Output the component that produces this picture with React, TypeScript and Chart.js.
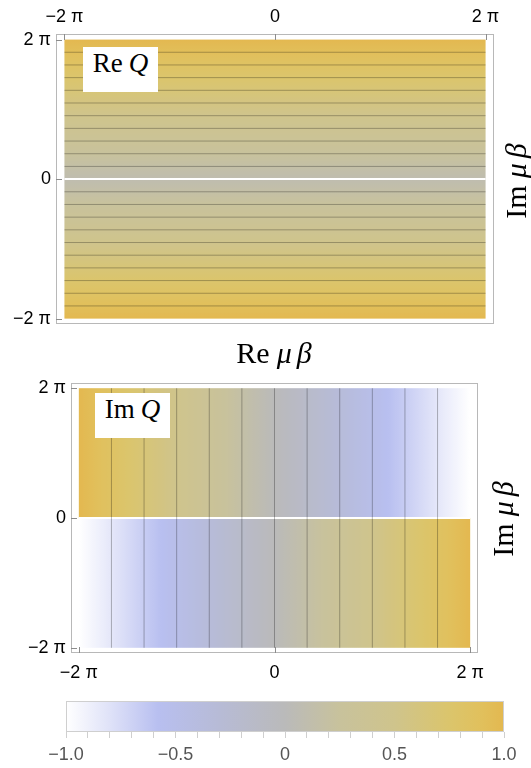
import React, { useEffect, useRef } from "react";
import { Chart, registerables } from "chart.js";

Chart.register(...registerables);

const PI = Math.PI;

// ---------- axes ----------
const axisMin = -2 * PI;
const axisMax = 2 * PI;
const plotPad = 0.08 * PI; // 2% of the 4π range on every side
const axisTickValues = [-2 * PI, 0, 2 * PI];
const axisTickLabels = ["−2 π", "0", "2 π"];

// ---------- Re Q : depends on Im μβ only ----------
const reQImSamples = [-2 * PI, 0, 2 * PI];
const reQValues = [1, 1 / 12, 1];
const reQContourLevels = [2 / 12, 3 / 12, 4 / 12, 5 / 12, 6 / 12, 7 / 12, 8 / 12, 9 / 12, 10 / 12, 11 / 12];

// ---------- Im Q : depends on Re μβ, sign flips across the cut ----------
const imQReSamples = [-2 * PI, 2 * PI];
const imQUpperValues = [1, -1];
const imQLowerValues = [-1, 1];
const imQContourLevels = [-5 / 6, -4 / 6, -3 / 6, -2 / 6, -1 / 6, 0, 1 / 6, 2 / 6, 3 / 6, 4 / 6, 5 / 6];

// ---------- colour bar ----------
const cbMin = -1;
const cbMax = 1;
const cbStopValues = [-1, -0.8, -0.58, -0.3, 0, 0.25, 0.5, 0.75, 0.9, 1];
const cbStopColors = ["#ffffff", "#dfe2f8", "#b8bff0", "#b7bbd6", "#bababa", "#c8c29c", "#cfc48c", "#dbc56c", "#e1c05c", "#e3b850"];
const cbLabelValues = [-1, -0.5, 0, 0.5, 1];
const cbLabels = ["−1.0", "−0.5", "0", "0.5", "1.0"];

const SANS = "'Liberation Sans', Arial, Helvetica, sans-serif";
const SERIF = "'Liberation Serif', 'Times New Roman', serif";

function hexToRgb(h: string) {
  const n = parseInt(h.slice(1), 16);
  return [(n >> 16) & 255, (n >> 8) & 255, n & 255];
}
function colorFor(v: number) {
  const t = Math.max(cbMin, Math.min(cbMax, v));
  for (let i = 0; i < cbStopValues.length - 1; i++) {
    if (t <= cbStopValues[i + 1] || i === cbStopValues.length - 2) {
      const f = (t - cbStopValues[i]) / (cbStopValues[i + 1] - cbStopValues[i]);
      const a = hexToRgb(cbStopColors[i]);
      const b = hexToRgb(cbStopColors[i + 1]);
      const c = a.map((x, k) => Math.round(x + f * (b[k] - x)));
      return `rgb(${c[0]},${c[1]},${c[2]})`;
    }
  }
  return cbStopColors[cbStopColors.length - 1];
}
function interp(samples: number[], values: number[], p: number) {
  for (let i = 0; i < samples.length - 1; i++) {
    if (p <= samples[i + 1] || i === samples.length - 2) {
      const f = (p - samples[i]) / (samples[i + 1] - samples[i]);
      return values[i] + f * (values[i + 1] - values[i]);
    }
  }
  return values[values.length - 1];
}
function levelCrossings(samples: number[], values: number[], level: number) {
  const out: number[] = [];
  for (let i = 0; i < samples.length - 1; i++) {
    const a = values[i];
    const b = values[i + 1];
    if (a !== b && (level - a) * (level - b) <= 0) {
      out.push(samples[i] + ((level - a) / (b - a)) * (samples[i + 1] - samples[i]));
    }
  }
  return out;
}

type Field = { x0: number; x1: number; y0: number; y1: number; axis: "x" | "y"; samples: number[]; values: number[] };

function heatmapPlugin(fields: Field[]) {
  return {
    id: "heatmap",
    beforeDatasetsDraw(chart: any) {
      const { ctx } = chart;
      const xs = chart.scales.x;
      const ys = chart.scales.y;
      ctx.save();
      for (const f of fields) {
        const px0 = xs.getPixelForValue(f.x0);
        const px1 = xs.getPixelForValue(f.x1);
        const py0 = ys.getPixelForValue(f.y0);
        const py1 = ys.getPixelForValue(f.y1);
        const a0 = f.samples[0];
        const a1 = f.samples[f.samples.length - 1];
        const g =
          f.axis === "x"
            ? ctx.createLinearGradient(xs.getPixelForValue(a0), 0, xs.getPixelForValue(a1), 0)
            : ctx.createLinearGradient(0, ys.getPixelForValue(a0), 0, ys.getPixelForValue(a1));
        const N = 240;
        for (let k = 0; k <= N; k++) {
          const t = k / N;
          g.addColorStop(t, colorFor(interp(f.samples, f.values, a0 + t * (a1 - a0))));
        }
        ctx.fillStyle = g;
        ctx.fillRect(Math.min(px0, px1), Math.min(py0, py1), Math.abs(px1 - px0), Math.abs(py1 - py0));
      }
      ctx.restore();
    },
  };
}

function framePlugin(sides: string[], color: string, tickLen: number) {
  return {
    id: "frame",
    afterDraw(chart: any) {
      const { ctx, chartArea } = chart;
      const xs = chart.scales.x;
      const ys = chart.scales.y;
      const L = Math.round(chartArea.left);
      const R = Math.round(chartArea.right);
      const T = Math.round(chartArea.top);
      const B = Math.round(chartArea.bottom);
      ctx.save();
      ctx.strokeStyle = color;
      ctx.lineWidth = 1;
      ctx.strokeRect(L + 0.5, T + 0.5, R - L - 1, B - T - 1);
      ctx.strokeStyle = "#8c8c8c";
      ctx.beginPath();
      for (const s of sides) {
        if (s === "left" && ys) {
          for (const v of axisTickValues) {
            const p = Math.round(ys.getPixelForValue(v)) + 0.5;
            ctx.moveTo(L, p);
            ctx.lineTo(L + tickLen, p);
          }
        }
        if ((s === "top" || s === "bottom") && xs) {
          for (const v of axisTickValues) {
            const p = Math.round(xs.getPixelForValue(v)) + 0.5;
            if (s === "top") {
              ctx.moveTo(p, T);
              ctx.lineTo(p, T + tickLen);
            } else {
              ctx.moveTo(p, B);
              ctx.lineTo(p, B - tickLen);
            }
          }
        }
      }
      ctx.stroke();
      ctx.restore();
    },
  };
}

function colorbarPlugin() {
  return {
    id: "colorbar",
    beforeDatasetsDraw(chart: any) {
      const { ctx, chartArea } = chart;
      const xs = chart.scales.x;
      const g = ctx.createLinearGradient(xs.getPixelForValue(cbMin), 0, xs.getPixelForValue(cbMax), 0);
      cbStopValues.forEach((v, i) => g.addColorStop((v - cbMin) / (cbMax - cbMin), cbStopColors[i]));
      ctx.save();
      ctx.fillStyle = g;
      ctx.fillRect(chartArea.left, chartArea.top, chartArea.right - chartArea.left, chartArea.bottom - chartArea.top);
      ctx.strokeStyle = "#cfcfcf";
      ctx.lineWidth = 1;
      ctx.strokeRect(Math.round(chartArea.left) + 0.5, Math.round(chartArea.top) + 0.5, Math.round(chartArea.right - chartArea.left) - 1, Math.round(chartArea.bottom - chartArea.top) - 1);
      ctx.restore();
    },
  };
}

function lineDs(points: { x: number; y: number }[], color: string, width: number) {
  return {
    data: points,
    showLine: true,
    pointRadius: 0,
    borderColor: color,
    borderWidth: width,
    fill: false,
  };
}

function axisScale(position: string, size: number, padding: number) {
  const horizontal = position === "top" || position === "bottom";
  return {
    type: "linear",
    position,
    min: axisMin - plotPad,
    max: axisMax + plotPad,
    afterBuildTicks: (s: any) => {
      s.ticks = axisTickValues.map((v) => ({ value: v }));
    },
    afterFit: (s: any) => {
      if (horizontal) s.height = size;
      else s.width = size;
    },
    grid: { display: false, drawTicks: false },
    border: { display: false },
    ticks: {
      autoSkip: false,
      maxRotation: 0,
      padding,
      color: "#000",
      font: { family: SANS, size: 18 },
      callback: (_v: any, i: number) => axisTickLabels[i],
    },
  };
}

const baseOpts = {
  animation: false,
  responsive: false,
  maintainAspectRatio: false,
  events: [],
  plugins: { legend: { display: false }, tooltip: { enabled: false }, title: { display: false } },
};

export default function App() {
  const c1 = useRef<HTMLCanvasElement>(null);
  const c2 = useRef<HTMLCanvasElement>(null);
  const c3 = useRef<HTMLCanvasElement>(null);

  useEffect(() => {
    const contour = "rgba(0,0,0,0.28)";
    // ----- Re Q -----
    const reDatasets: any[] = [];
    reQContourLevels.forEach((lv) =>
      levelCrossings(reQImSamples, reQValues, lv).forEach((yv) =>
        reDatasets.push(lineDs([{ x: axisMin, y: yv }, { x: axisMax, y: yv }], contour, 1))
      )
    );
    reDatasets.push(lineDs([{ x: axisMin, y: 0 }, { x: axisMax, y: 0 }], "#ffffff", 2));

    const chart1 = new Chart(c1.current as HTMLCanvasElement, {
      type: "scatter",
      data: { datasets: reDatasets },
      options: {
        ...baseOpts,
        layout: { padding: { left: 0, top: 0, right: 37, bottom: 14 } },
        scales: { x: axisScale("top", 34, 6), y: axisScale("left", 56, 5) },
      } as any,
      plugins: [
        heatmapPlugin([
          { x0: axisMin, x1: axisMax, y0: axisMin, y1: axisMax, axis: "y", samples: reQImSamples, values: reQValues },
        ]),
        framePlugin(["top", "left"], "#b8b8b8", 6),
      ] as any,
    });

    // ----- Im Q -----
    const imDatasets: any[] = [];
    imQContourLevels.forEach((lv) => {
      levelCrossings(imQReSamples, imQUpperValues, lv).forEach((xv) =>
        imDatasets.push(lineDs([{ x: xv, y: 0 }, { x: xv, y: axisMax }], contour, 1))
      );
      levelCrossings(imQReSamples, imQLowerValues, lv).forEach((xv) =>
        imDatasets.push(lineDs([{ x: xv, y: axisMin }, { x: xv, y: 0 }], contour, 1))
      );
    });
    imDatasets.push(lineDs([{ x: axisMin, y: 0 }, { x: axisMax, y: 0 }], "#ffffff", 2));

    const chart2 = new Chart(c2.current as HTMLCanvasElement, {
      type: "scatter",
      data: { datasets: imDatasets },
      options: {
        ...baseOpts,
        layout: { padding: { left: 0, top: 18, right: 53, bottom: 0 } },
        scales: { x: axisScale("bottom", 32, 9), y: axisScale("left", 71, 5) },
      } as any,
      plugins: [
        heatmapPlugin([
          { x0: axisMin, x1: axisMax, y0: 0, y1: axisMax, axis: "x", samples: imQReSamples, values: imQUpperValues },
          { x0: axisMin, x1: axisMax, y0: axisMin, y1: 0, axis: "x", samples: imQReSamples, values: imQLowerValues },
        ]),
        framePlugin(["bottom", "left"], "#b8b8b8", 6),
      ] as any,
    });

    // ----- colour bar -----
    const chart3 = new Chart(c3.current as HTMLCanvasElement, {
      type: "scatter",
      data: { datasets: [] },
      options: {
        ...baseOpts,
        layout: { padding: { left: 66, top: 16, right: 27, bottom: 0 } },
        scales: {
          x: {
            type: "linear",
            position: "bottom",
            min: cbMin,
            max: cbMax,
            afterFit: (s: any) => {
              s.height = 36;
            },
            grid: { display: true, drawOnChartArea: false, drawTicks: true, tickLength: 6, color: "#cfcfcf", lineWidth: 1 },
            border: { display: false },
            ticks: {
              stepSize: 0.1,
              autoSkip: false,
              maxRotation: 0,
              padding: 6,
              color: "#555555",
              font: { family: SANS, size: 18 },
              callback: (v: any) => {
                const k = cbLabelValues.findIndex((c) => Math.abs(c - Number(v)) < 1e-6);
                return k >= 0 ? cbLabels[k] : "";
              },
            },
          },
          y: { display: false, min: 0, max: 1 },
        },
      } as any,
      plugins: [colorbarPlugin()] as any,
    });

    return () => {
      chart1.destroy();
      chart2.destroy();
      chart3.destroy();
    };
  }, []);

  const boxStyle = (left: number, top: number): React.CSSProperties => ({
    position: "absolute",
    left,
    top,
    width: 75,
    height: 45,
    background: "#ffffff",
    boxSizing: "border-box",
    paddingTop: 3,
    textAlign: "center",
    font: `27px ${SERIF}`,
    lineHeight: "26px",
    color: "#000",
    whiteSpace: "nowrap",
  });
  const rotLabel = (cx: number, cy: number): React.CSSProperties => ({
    position: "absolute",
    left: cx - 70,
    top: cy - 15,
    width: 140,
    height: 30,
    textAlign: "center",
    font: `30px ${SERIF}`,
    lineHeight: "30px",
    transform: "rotate(-90deg)",
    transformOrigin: "50% 50%",
    whiteSpace: "nowrap",
    color: "#000",
  });

  return (
    <div style={{ position: "absolute", left: 0, top: 0, width: 531, height: 768, background: "#fff", overflow: "hidden" }}>
      <canvas ref={c1} width={531} height={340} style={{ position: "absolute", left: 0, top: 0, width: 531, height: 340 }} />
      <canvas ref={c2} width={531} height={320} style={{ position: "absolute", left: 0, top: 365, width: 531, height: 320 }} />
      <canvas ref={c3} width={531} height={83} style={{ position: "absolute", left: 0, top: 685, width: 531, height: 83 }} />

      <div style={boxStyle(83, 47)}>
        <span>Re</span>
        <span style={{ fontStyle: "italic", marginLeft: 6 }}>Q</span>
      </div>
      <div style={boxStyle(95, 393)}>
        <span>Im</span>
        <span style={{ fontStyle: "italic", marginLeft: 6 }}>Q</span>
      </div>

      <div
        style={{
          position: "absolute",
          left: 174,
          top: 338,
          width: 200,
          textAlign: "center",
          font: `30px ${SERIF}`,
          lineHeight: "30px",
          whiteSpace: "nowrap",
          color: "#000",
        }}
      >
        <span>Re</span>
        <span style={{ fontStyle: "italic", marginLeft: 7 }}>μ</span>
        <span style={{ fontStyle: "italic", marginLeft: 5 }}>β</span>
      </div>

      <div style={rotLabel(516, 181)}>
        <span>Im</span>
        <span style={{ fontStyle: "italic", marginLeft: 7 }}>μ</span>
        <span style={{ fontStyle: "italic", marginLeft: 5 }}>β</span>
      </div>
      <div style={rotLabel(502.6, 519)}>
        <span>Im</span>
        <span style={{ fontStyle: "italic", marginLeft: 7 }}>μ</span>
        <span style={{ fontStyle: "italic", marginLeft: 5 }}>β</span>
      </div>
    </div>
  );
}
